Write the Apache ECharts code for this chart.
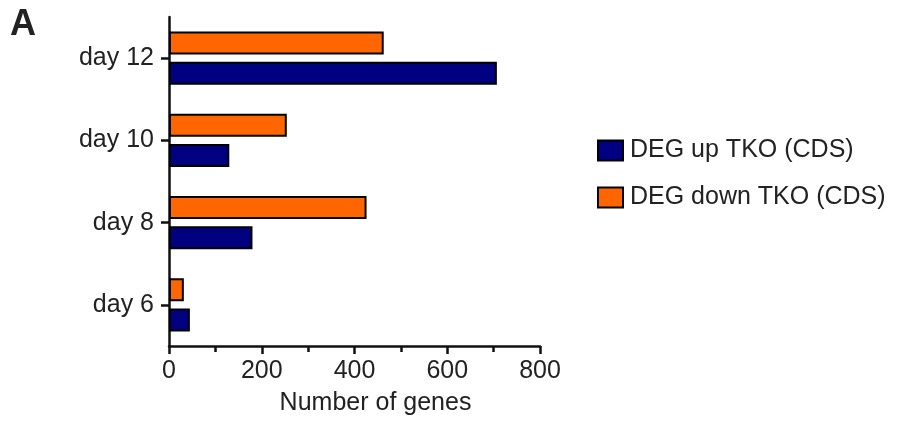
<!DOCTYPE html>
<html><head><meta charset="utf-8">
<script src="https://cdn.jsdelivr.net/npm/echarts@6/dist/echarts.min.js"></script>
<style>html,body{margin:0;padding:0;background:#fff}#c{width:898px;height:421px}</style>
</head><body><div id="c"></div>
<script>
const categories = ['day 6', 'day 8', 'day 10', 'day 12'];
const degUp = [45, 180, 130, 707];
const degDown = [32, 426, 254, 463];
const xTicks = [0, 200, 400, 600, 800];
const seriesNames = ['DEG up TKO (CDS)', 'DEG down TKO (CDS)'];

const font = 'Liberation Sans, Arial, sans-serif';
const chart = echarts.init(document.getElementById('c'), null, {renderer: 'canvas'});
chart.setOption({
  animation: false,
  backgroundColor: '#fff',
  title: {text: 'A', left: 5, top: 2, textStyle: {fontFamily: font, fontSize: 36, fontWeight: 'bold', color: '#222'}},
  grid: {left: 169, right: 358, top: 17, bottom: 73, containLabel: false},
  legend: {
    orient: 'vertical', left: 592, top: 133, itemWidth: 25, itemHeight: 20, itemGap: 22,
    icon: 'rect', data: seriesNames,
    textStyle: {fontFamily: font, fontSize: 25, color: '#222', padding: [0, 0, 0, 2]}
  },
  xAxis: {
    type: 'value', min: xTicks[0], max: xTicks[xTicks.length - 1], interval: 200,
    name: 'Number of genes', nameLocation: 'middle', nameGap: 45,
    nameTextStyle: {fontFamily: font, fontSize: 25, color: '#222', padding: [0, 0, 0, 42]},
    axisLine: {show: true, lineStyle: {color: '#111', width: 2.5}},
    axisTick: {show: true, length: 8, lineStyle: {color: '#111', width: 2.5}},
    minorTick: {show: true, splitNumber: 2, length: 6, lineStyle: {color: '#111', width: 2.5}},
    splitLine: {show: false},
    axisLabel: {fontFamily: font, fontSize: 25, color: '#222', margin: 13}
  },
  yAxis: {
    type: 'category', data: categories,
    axisLine: {show: true, lineStyle: {color: '#111', width: 2.5}},
    axisTick: {show: true, alignWithLabel: true, length: 8, lineStyle: {color: '#111', width: 2.5}},
    axisLabel: {fontFamily: font, fontSize: 25, color: '#222', margin: 15}
  },
  series: [
    {name: seriesNames[1], type: 'bar', data: degDown, barWidth: 23, barGap: '32%',
     itemStyle: {color: '#FF6600', borderColor: '#000', borderWidth: 2}},
    {name: seriesNames[0], type: 'bar', data: degUp, barWidth: 23, barGap: '32%',
     itemStyle: {color: '#000080', borderColor: '#000', borderWidth: 2}}
  ]
});
</script></body></html>
